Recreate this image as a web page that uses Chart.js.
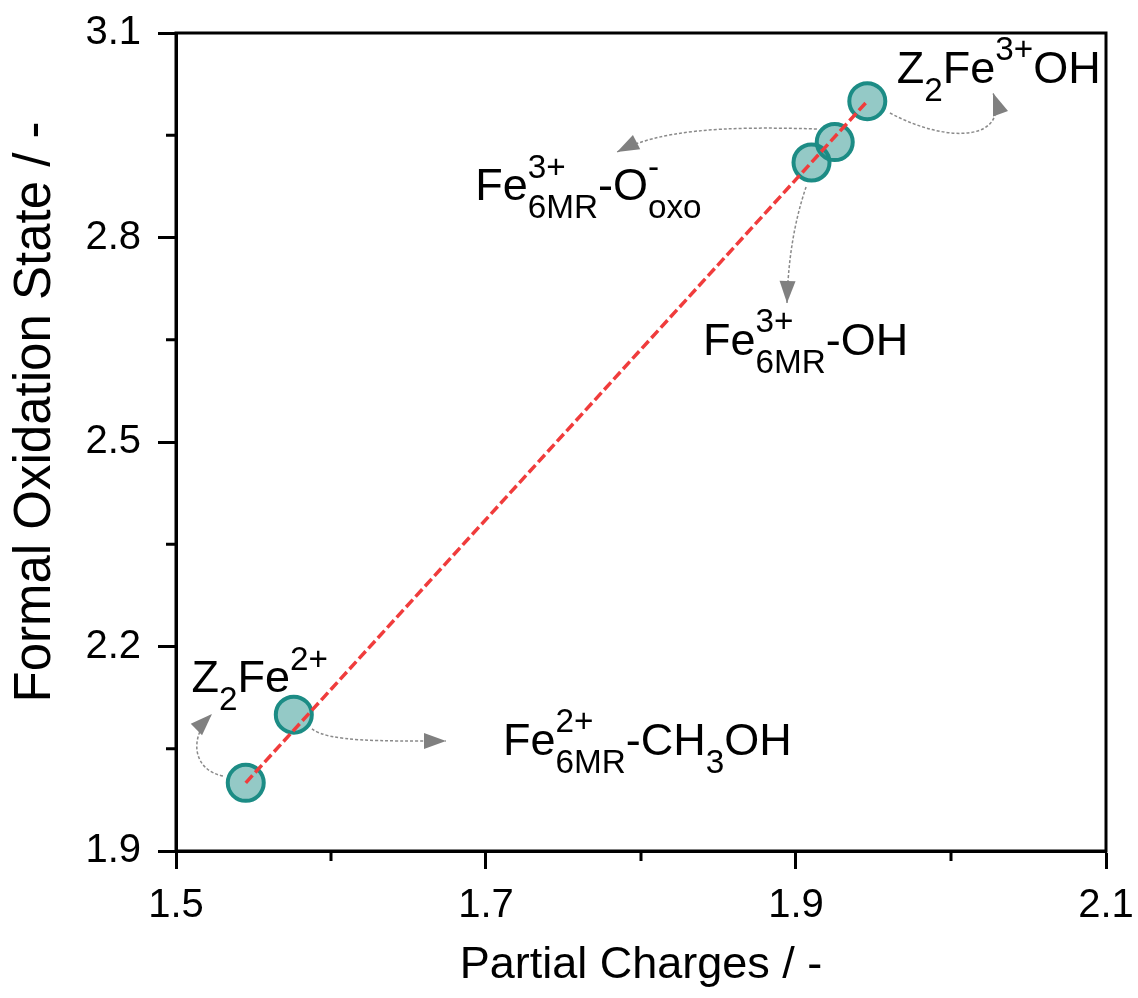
<!DOCTYPE html>
<html>
<head>
<meta charset="utf-8">
<script src="https://cdn.jsdelivr.net/npm/chart.js@4.4.1/dist/chart.umd.min.js"></script>
<style>
  body { margin: 0; background: #fff; }
</style>
</head>
<body>
<canvas id="chart" width="1138" height="998"></canvas>
<script>
// values
const charges = [1.545, 1.576, 1.910, 1.925, 1.946];
const oxStates = [2.0, 2.1, 2.91, 2.94, 3.0];
const fitX = [1.545, 1.946];
const fitY = [2.0, 3.0];
const xTicks = [1.5, 1.7, 1.9, 2.1];
const xMinor = [1.6, 1.8, 2.0];
const yTicks = [1.9, 2.2, 2.5, 2.8, 3.1];
const yMinor = [2.05, 2.35, 2.65, 2.95];

// labels: anchor (data coords) + rich text pieces
const labelPos = [[1.965, 3.027], [1.693, 2.855], [1.840, 2.628], [1.510, 2.133], [1.711, 2.041]];
const labelParts = [
  [{t: 'Z', sub: '2'}, {t: 'Fe', sup: '3+'}, {t: 'OH'}],
  [{t: 'Fe', sup: '3+', sub: '6MR'}, {t: '-O', sup: '-', sub: 'oxo'}],
  [{t: 'Fe', sup: '3+', sub: '6MR'}, {t: '-OH'}],
  [{t: 'Z', sub: '2'}, {t: 'Fe', sup: '2+'}],
  [{t: 'Fe', sup: '2+', sub: '6MR'}, {t: '-CH', sub: '3'}, {t: 'OH'}]
];
// curved arrows, cubic bezier control points in data coords
const arrows = [
  [[1.9606, 2.9826], [1.9994, 2.9357], [2.0381, 2.9430], [2.0271, 3.0120]],
  [[1.9135, 2.9592], [1.8510, 2.9636], [1.8123, 2.9577], [1.7845, 2.9254]],
  [[1.9065, 2.8741], [1.8981, 2.8183], [1.8948, 2.7597], [1.8942, 2.7039]],
  [[1.5303, 2.0100], [1.5110, 2.0188], [1.5077, 2.0658], [1.5232, 2.1010]],
  [[1.5877, 2.0790], [1.5994, 2.0600], [1.6316, 2.0614], [1.6742, 2.0614]]
];

const FONT = "'Liberation Sans', Arial, sans-serif";

function drawRich(ctx, x, y, parts, size) {
  const small = size * 0.74;
  ctx.textBaseline = 'alphabetic';
  ctx.textAlign = 'left';
  ctx.fillStyle = '#000';
  parts.forEach(p => {
    ctx.font = size + 'px ' + FONT;
    ctx.fillText(p.t, x, y);
    x += ctx.measureText(p.t).width;
    ctx.font = small + 'px ' + FONT;
    let w = 0;
    if (p.sup) {
      ctx.fillText(p.sup, x, y - size * 0.5);
      w = Math.max(w, ctx.measureText(p.sup).width);
    }
    if (p.sub) {
      ctx.fillText(p.sub, x, y + size * 0.4);
      w = Math.max(w, ctx.measureText(p.sub).width);
    }
    x += w;
  });
}

const extras = {
  id: 'extras',
  afterDatasetsDraw(chart) {
    const ctx = chart.ctx;
    const xs = chart.scales.x, ys = chart.scales.y;
    const px = v => xs.getPixelForValue(v);
    const py = v => ys.getPixelForValue(v);
    ctx.save();
    // arrows
    arrows.forEach(a => {
      const p = a.map(q => [px(q[0]), py(q[1])]);
      ctx.strokeStyle = '#8a8a8a';
      ctx.lineWidth = 1.5;
      ctx.setLineDash([3, 2]);
      ctx.beginPath();
      ctx.moveTo(p[0][0], p[0][1]);
      ctx.bezierCurveTo(p[1][0], p[1][1], p[2][0], p[2][1], p[3][0], p[3][1]);
      ctx.stroke();
      ctx.setLineDash([]);
      const ang = Math.atan2(p[3][1] - p[2][1], p[3][0] - p[2][0]);
      const L = 22, W = 8;
      const bx = p[3][0] - L * Math.cos(ang), by = p[3][1] - L * Math.sin(ang);
      ctx.fillStyle = '#808080';
      ctx.beginPath();
      ctx.moveTo(p[3][0], p[3][1]);
      ctx.lineTo(bx + W * Math.sin(ang), by - W * Math.cos(ang));
      ctx.lineTo(bx - W * Math.sin(ang), by + W * Math.cos(ang));
      ctx.closePath();
      ctx.fill();
    });
    // labels
    labelParts.forEach((parts, i) => {
      drawRich(ctx, px(labelPos[i][0]), py(labelPos[i][1]), parts, 45);
    });
    ctx.restore();
  },
  afterDraw(chart) {
    const ctx = chart.ctx;
    const a = chart.chartArea;
    ctx.save();
    ctx.strokeStyle = '#000';
    ctx.lineWidth = 3;
    ctx.strokeRect(a.left, a.top, a.right - a.left, a.bottom - a.top);
    ctx.beginPath();
    xMinor.forEach(v => {
      const x = chart.scales.x.getPixelForValue(v);
      ctx.moveTo(x, a.bottom);
      ctx.lineTo(x, a.bottom + 10);
    });
    yMinor.forEach(v => {
      const y = chart.scales.y.getPixelForValue(v);
      ctx.moveTo(a.left, y);
      ctx.lineTo(a.left - 10, y);
    });
    ctx.stroke();
    // y axis title, drawn by hand so it can sit a little above centre like the original
    ctx.translate(50, 412);
    ctx.rotate(-Math.PI / 2);
    ctx.font = '51px ' + FONT;
    ctx.fillStyle = '#000';
    ctx.textAlign = 'center';
    ctx.textBaseline = 'alphabetic';
    ctx.fillText('Formal Oxidation State / -', 0, 0);
    ctx.restore();
  }
};

new Chart(document.getElementById('chart'), {
  type: 'scatter',
  data: {
    datasets: [
      {
        data: fitX.map((x, i) => ({x: x, y: fitY[i]})),
        showLine: true,
        borderColor: '#f03c3c',
        borderWidth: 3.5,
        borderDash: [10, 4],
        pointRadius: 0
      },
      {
        data: charges.map((x, i) => ({x: x, y: oxStates[i]})),
        pointRadius: 18,
        borderWidth: 4,
        borderColor: '#1c8c85',
        backgroundColor: 'rgba(28,140,133,0.47)'
      }
    ]
  },
  options: {
    responsive: false,
    animation: false,
    events: [],
    layout: { padding: { top: 33, right: 32 } },
    plugins: { legend: { display: false }, tooltip: { enabled: false } },
    scales: {
      x: {
        type: 'linear',
        min: 1.5, max: 2.1,
        afterBuildTicks: s => { s.ticks = xTicks.map(v => ({value: v})); },
        afterFit: s => { s.height = 147; s.paddingLeft = 0; s.paddingRight = 0; },
        ticks: { callback: v => v.toFixed(1), color: '#000', padding: 13, font: { family: FONT, size: 40 } },
        grid: { drawOnChartArea: false, tickLength: 18, tickWidth: 3, tickColor: '#000' },
        border: { color: '#000', width: 3 },
        title: { display: true, text: 'Partial Charges / -', color: '#000', padding: { top: 0, bottom: 5 }, font: { family: FONT, size: 45 } }
      },
      y: {
        type: 'linear',
        min: 1.9, max: 3.1,
        afterBuildTicks: s => { s.ticks = yTicks.map(v => ({value: v})); },
        afterFit: s => { s.width = 176; s.paddingTop = 0; s.paddingBottom = 0; },
        ticks: { callback: v => v.toFixed(1), color: '#000', padding: 17, font: { family: FONT, size: 40 } },
        grid: { drawOnChartArea: false, tickLength: 18, tickWidth: 3, tickColor: '#000' },
        border: { color: '#000', width: 3 },
        title: { display: false }
      }
    }
  },
  plugins: [extras]
});
</script>
</body>
</html>
